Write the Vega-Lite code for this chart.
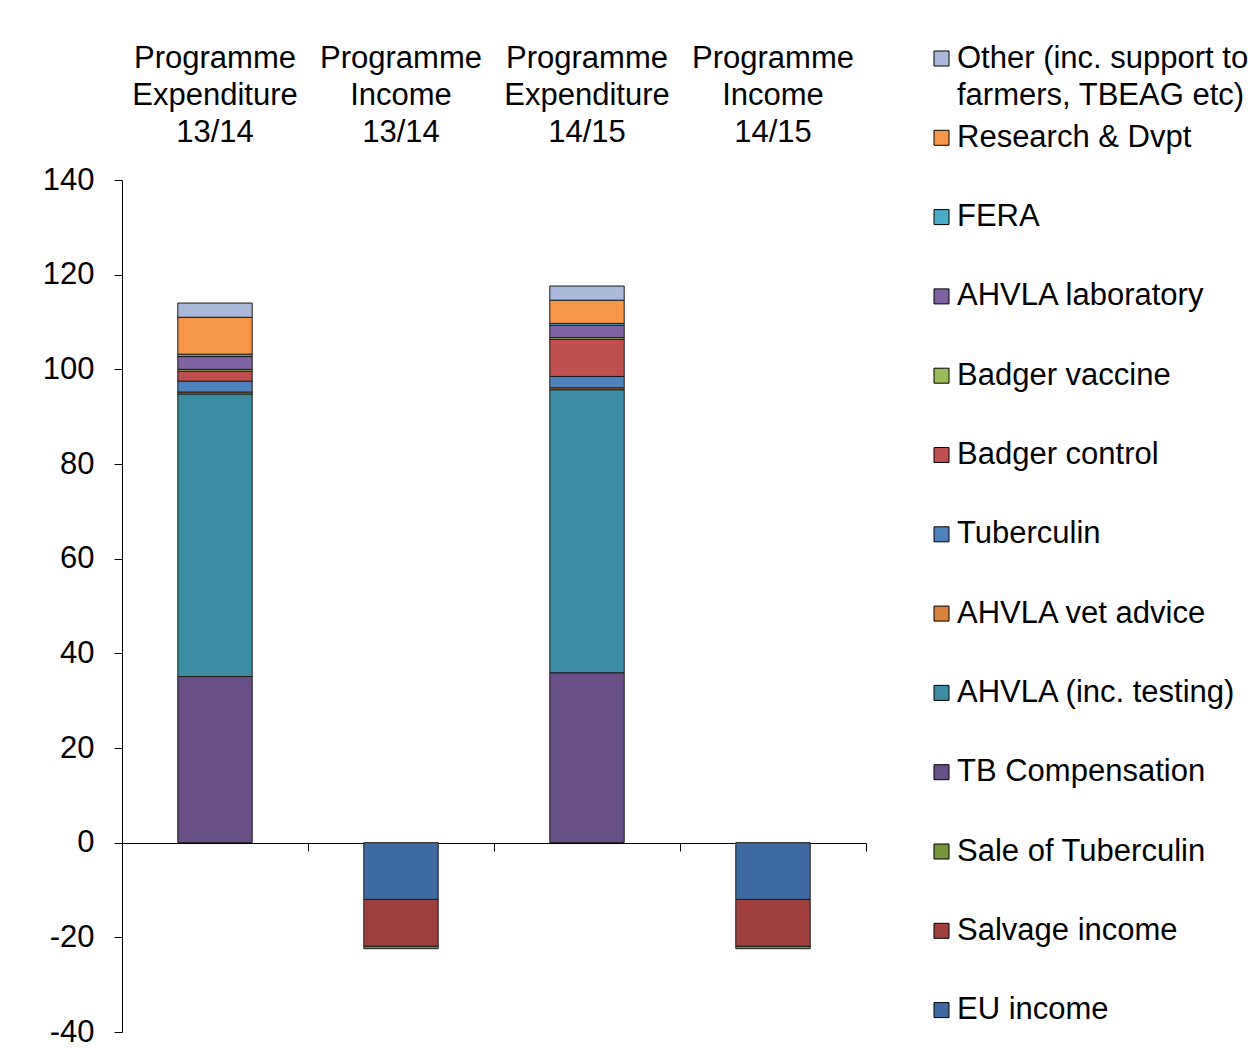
{
  "$schema": "https://vega.github.io/schema/vega-lite/v6.json",
  "width": 744,
  "height": 852,
  "autosize": {"type": "none"},
  "padding": {"left": 122, "top": 180, "right": 392, "bottom": 23},
  "background": "white",
  "config": {
    "view": {"stroke": null},
    "font": "Liberation Sans",
    "axis": {"grid": false},
    "style": {"guide-label": {"lineHeight": 37}}
  },
  "data": {
    "values": [
      {"cat": "Programme Expenditure 13/14", "comp": "TB Compensation", "value": 35.1, "o": 1},
      {"cat": "Programme Expenditure 13/14", "comp": "AHVLA (inc. testing)", "value": 59.7, "o": 2},
      {"cat": "Programme Expenditure 13/14", "comp": "AHVLA vet advice", "value": 0.4, "o": 3},
      {"cat": "Programme Expenditure 13/14", "comp": "Tuberculin", "value": 2.3, "o": 4},
      {"cat": "Programme Expenditure 13/14", "comp": "Badger control", "value": 2.1, "o": 5},
      {"cat": "Programme Expenditure 13/14", "comp": "Badger vaccine", "value": 0.4, "o": 6},
      {"cat": "Programme Expenditure 13/14", "comp": "AHVLA laboratory", "value": 2.7, "o": 7},
      {"cat": "Programme Expenditure 13/14", "comp": "FERA", "value": 0.5, "o": 8},
      {"cat": "Programme Expenditure 13/14", "comp": "Research & Dvpt", "value": 7.8, "o": 9},
      {"cat": "Programme Expenditure 13/14", "comp": "Other (inc. support to farmers, TBEAG etc)", "value": 3.0, "o": 10},
      {"cat": "Programme Income 13/14", "comp": "EU income", "value": -12.0, "o": 11},
      {"cat": "Programme Income 13/14", "comp": "Salvage income", "value": -9.9, "o": 12},
      {"cat": "Programme Income 13/14", "comp": "Sale of Tuberculin", "value": -0.5, "o": 13},
      {"cat": "Programme Expenditure 14/15", "comp": "TB Compensation", "value": 35.9, "o": 1},
      {"cat": "Programme Expenditure 14/15", "comp": "AHVLA (inc. testing)", "value": 59.8, "o": 2},
      {"cat": "Programme Expenditure 14/15", "comp": "AHVLA vet advice", "value": 0.4, "o": 3},
      {"cat": "Programme Expenditure 14/15", "comp": "Tuberculin", "value": 2.4, "o": 4},
      {"cat": "Programme Expenditure 14/15", "comp": "Badger control", "value": 7.8, "o": 5},
      {"cat": "Programme Expenditure 14/15", "comp": "Badger vaccine", "value": 0.4, "o": 6},
      {"cat": "Programme Expenditure 14/15", "comp": "AHVLA laboratory", "value": 2.6, "o": 7},
      {"cat": "Programme Expenditure 14/15", "comp": "FERA", "value": 0.4, "o": 8},
      {"cat": "Programme Expenditure 14/15", "comp": "Research & Dvpt", "value": 4.9, "o": 9},
      {"cat": "Programme Expenditure 14/15", "comp": "Other (inc. support to farmers, TBEAG etc)", "value": 3.0, "o": 10},
      {"cat": "Programme Income 14/15", "comp": "EU income", "value": -12.0, "o": 11},
      {"cat": "Programme Income 14/15", "comp": "Salvage income", "value": -9.9, "o": 12},
      {"cat": "Programme Income 14/15", "comp": "Sale of Tuberculin", "value": -0.5, "o": 13}
    ]
  },
  "encoding": {
    "x": {
      "field": "cat",
      "type": "nominal",
      "sort": ["Programme Expenditure 13/14", "Programme Income 13/14", "Programme Expenditure 14/15", "Programme Income 14/15"],
      "scale": {"paddingInner": 0, "paddingOuter": 0}
    },
    "y": {
      "field": "value",
      "type": "quantitative",
      "aggregate": "sum",
      "stack": "zero",
      "scale": {"domain": [-40, 140], "nice": false},
      "axis": {
        "title": null,
        "values": [-40, -20, 0, 20, 40, 60, 80, 100, 120, 140],
        "labelExpr": "toString(datum.value)",
        "labelFontSize": 31,
        "labelColor": "#000000",
        "labelPadding": 20,
        "tickSize": 8,
        "tickColor": "#000000",
        "domainColor": "#000000",
        "grid": false
      }
    }
  },
  "layer": [
    {
      "mark": {"type": "bar", "stroke": "#1a1a1a", "strokeWidth": 1, "width": {"band": 0.4}},
      "encoding": {
        "x": {
          "field": "cat",
          "type": "nominal",
          "sort": ["Programme Expenditure 13/14", "Programme Income 13/14", "Programme Expenditure 14/15", "Programme Income 14/15"],
          "axis": {
            "orient": "top",
            "title": null,
            "labelAngle": 0,
            "labelExpr": "split(datum.label, ' ')",
            "labelFontSize": 31,
            "labelLineHeight": 37,
            "labelColor": "#000000",
            "labelPadding": 106,
            "domain": false,
            "ticks": false
          }
        },
        "y": {"field": "value", "type": "quantitative", "aggregate": "sum", "stack": "zero"},
        "color": {
          "field": "comp",
          "type": "nominal",
          "scale": {
            "domain": ["Other (inc. support to farmers, TBEAG etc)", "Research & Dvpt", "FERA", "AHVLA laboratory", "Badger vaccine", "Badger control", "Tuberculin", "AHVLA vet advice", "AHVLA (inc. testing)", "TB Compensation", "Sale of Tuberculin", "Salvage income", "EU income"],
            "range": ["#AAB9DA", "#F79646", "#4BACC6", "#8064A2", "#9BBB59", "#C0504D", "#4F81BD", "#D9823D", "#3C8DA3", "#684F86", "#77963C", "#A0403C", "#3E6AA1"]
          },
          "legend": {
            "title": null,
            "orient": "none",
            "legendX": 804,
            "legendY": -137,
            "symbolType": "square",
            "symbolSize": 225,
            "symbolStrokeColor": "#000000",
            "symbolStrokeWidth": 1,
            "symbolOpacity": 1,
            "labelFontSize": 31,
            "labelColor": "#000000",
            "labelLimit": 400,
            "labelOffset": 0,
            "rowPadding": 10.3,
            "labelExpr": "datum.label == 'Other (inc. support to farmers, TBEAG etc)' ? ['Other (inc. support to', 'farmers, TBEAG etc)'] : [datum.label, ' ']"
          }
        },
        "order": {"field": "o", "type": "quantitative"}
      }
    },
    {
      "mark": {"type": "rule", "opacity": 0},
      "encoding": {
        "x": {
          "field": "cat",
          "type": "nominal",
          "sort": ["Programme Expenditure 13/14", "Programme Income 13/14", "Programme Expenditure 14/15", "Programme Income 14/15"],
          "axis": {
            "orient": "bottom",
            "title": null,
            "labels": false,
            "offset": -189,
            "tickBand": "extent",
            "tickSize": 8,
            "tickColor": "#000000",
            "domainColor": "#000000"
          }
        }
      }
    }
  ],
  "resolve": {"axis": {"x": "independent"}}
}
